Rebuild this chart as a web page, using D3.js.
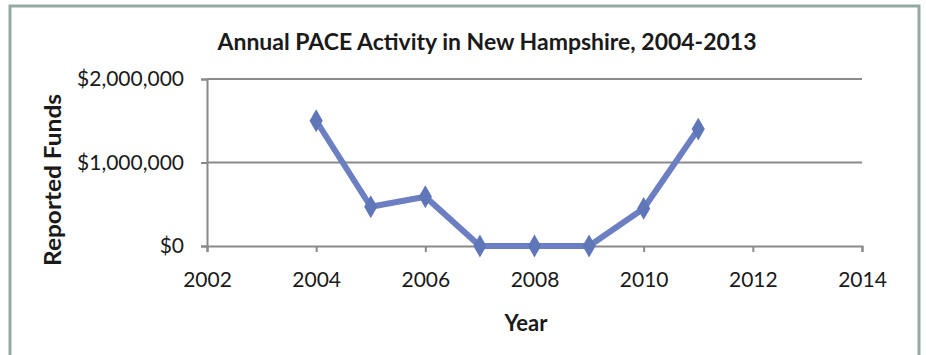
<!DOCTYPE html>
<html><head><meta charset="utf-8">
<script src="https://cdn.jsdelivr.net/npm/d3@7"></script>
<style>
html,body{margin:0;padding:0;background:#fff;}
svg{display:block;}
text{font-family:Lato,"Open Sans",sans-serif;fill:#1a1a1a;}
</style></head><body>
<svg id="chart" width="926" height="355"></svg>
<script>
const title = "Annual PACE Activity in New Hampshire, 2004-2013";
const yTitle = "Reported Funds";
const xTitle = "Year";
const years = [2004, 2005, 2006, 2007, 2008, 2009, 2010, 2011];
const funds = [1500000, 470000, 590000, 0, 0, 0, 450000, 1400000];
const xTicks = [2002, 2004, 2006, 2008, 2010, 2012, 2014];
const yTicks = [0, 1000000, 2000000];

const svg = d3.select("#chart");
// outer frame
svg.append("rect").attr("x", 10).attr("y", 6).attr("width", 909).attr("height", 360)
  .attr("fill", "#fff").attr("stroke", "#93aaa4").attr("stroke-width", 3);

const x = d3.scaleLinear().domain([2002, 2014]).range([207, 862]);
const y = d3.scaleLinear().domain([0, 2000000]).range([246, 79]);

// gridlines
svg.append("g").selectAll("line").data(yTicks.filter(d => d > 0)).join("line")
  .attr("x1", x(2002)).attr("x2", x(2014)).attr("y1", d => y(d)).attr("y2", d => y(d))
  .attr("stroke", "#8a8a8a").attr("stroke-width", 2);

const fmt = d => "$" + d3.format(",")(d);
const yAxis = svg.append("g").attr("transform", `translate(${x(2002)},0)`)
  .call(d3.axisLeft(y).tickValues(yTicks).tickFormat(fmt).tickSize(6).tickPadding(17));
const xAxis = svg.append("g").attr("transform", `translate(0,${y(0)})`)
  .call(d3.axisBottom(x).tickValues(xTicks).tickFormat(d3.format("d")).tickSize(6).tickPadding(20));
[yAxis, xAxis].forEach(a => {
  a.select(".domain").attr("stroke", "#8a8a8a").attr("stroke-width", 2);
  a.selectAll(".tick line").attr("stroke", "#8a8a8a").attr("stroke-width", 2);
  a.selectAll("text").attr("font-size", 21).attr("fill", "#1a1a1a")
    .style("font-family", "Lato, 'Open Sans', sans-serif");
});

const line = d3.line().x((d, i) => x(years[i])).y(d => y(d));
svg.append("path").datum(funds).attr("d", line)
  .attr("fill", "none").attr("stroke", "#6b7fc2").attr("stroke-width", 6)
  .attr("stroke-linejoin", "round");
svg.append("g").selectAll("path").data(funds).join("path")
  .attr("d", d3.symbol().type(d3.symbolDiamond).size(150))
  .attr("transform", (d, i) => `translate(${x(years[i])},${y(d)})`)
  .attr("fill", "#5f76b8");

svg.append("text").attr("x", 487).attr("y", 50).attr("text-anchor", "middle")
  .attr("font-size", 22).attr("font-weight", "bold")
  .attr("textLength", 539).attr("lengthAdjust", "spacingAndGlyphs").text(title);
svg.append("text").attr("transform", "translate(61,180) rotate(-90)")
  .attr("text-anchor", "middle").attr("font-size", 22).attr("font-weight", "bold")
  .attr("textLength", 172).attr("lengthAdjust", "spacingAndGlyphs").text(yTitle);
svg.append("text").attr("x", 526).attr("y", 331).attr("text-anchor", "middle")
  .attr("font-size", 22).attr("font-weight", "bold").text(xTitle);
</script></body></html>
